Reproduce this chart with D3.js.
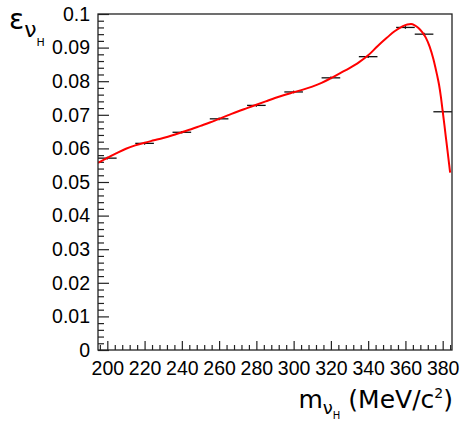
<!DOCTYPE html>
<html>
<head>
    <meta charset='utf-8'>
    <title>Efficiency</title>
    <script src="https://cdn.jsdelivr.net/npm/d3@7/dist/d3.min.js"></script>
    <style type="text/css">
        body { margin: 0; background: #fff; }
        .axis text { font-family: "Liberation Sans", Arial, sans-serif; font-size: 19.5px; fill: #000; }
        .axis line { stroke: #222; stroke-width: 1.2; }
        .title { font-family: "DejaVu Sans", sans-serif; fill: #000; }
    </style>
</head>
<body>
    <div id="svgContainer"></div>

    <script type="text/javascript">

        // measured points (bin centre, efficiency, errors)
        const massPoints = [200, 220, 240, 260, 280, 300, 320, 340, 360, 370, 380];
        const effPoints = [0.0571, 0.0615, 0.0648, 0.0688, 0.0728, 0.0768, 0.0810, 0.0873, 0.0960, 0.0940, 0.0709];
        const massErr = [5, 5, 5, 5, 5, 5, 5, 5, 5, 5, 5];
        const effErr = [0.0004, 0.0004, 0.0004, 0.0004, 0.0004, 0.0004, 0.0004, 0.0004, 0.0004, 0.0004, 0.0004];

        // fitted curve
        const fitMass = [195, 200, 205, 210, 215, 220, 225, 230, 235, 240, 245, 250, 255, 260, 265, 270,
            275, 280, 285, 290, 295, 300, 305, 310, 315, 320, 325, 330, 335, 340, 345, 350, 354, 358,
            361, 363, 365, 367, 369, 371, 373, 375, 376, 377, 378, 379, 380, 381, 382, 383, 384];
        const fitEff = [0.0557, 0.0572, 0.0586, 0.0599, 0.0609, 0.0617, 0.0624, 0.0631, 0.0639, 0.0648,
            0.0657, 0.0667, 0.0677, 0.0688, 0.0699, 0.0710, 0.0720, 0.0730, 0.0740, 0.0750, 0.0759,
            0.0767, 0.0775, 0.0784, 0.0795, 0.0809, 0.0824, 0.0839, 0.0856, 0.0877, 0.0904, 0.0929,
            0.0948, 0.0962, 0.0969, 0.0970, 0.0966, 0.0958, 0.0946, 0.0929, 0.0903, 0.0866, 0.0843,
            0.0818, 0.0791, 0.0755, 0.0711, 0.0666, 0.0620, 0.0574, 0.0528];

        const xTicks = [200, 220, 240, 260, 280, 300, 320, 340, 360, 380];
        const yTicks = [0, 0.01, 0.02, 0.03, 0.04, 0.05, 0.06, 0.07, 0.08, 0.09, 0.1];
        const xDomain = [195, 385];
        const yDomain = [0, 0.1];

        const width = 460;
        const height = 421;
        const frame = {left: 98, right: 452, top: 14, bottom: 350};

        const svg = d3.select("#svgContainer").append("svg")
            .attr("width", width)
            .attr("height", height);

        const x = d3.scaleLinear().domain(xDomain).range([frame.left, frame.right]);
        const y = d3.scaleLinear().domain(yDomain).range([frame.bottom, frame.top]);

        // minor ticks: 5 subdivisions per major step
        const xMinor = d3.range(196, xDomain[1], 4).filter(v => v % 20 !== 0);
        const yMinor = d3.range(0, 50).filter(i => i % 5 !== 0).map(i => i * 0.002);

        svg.append("g")
            .attr("class", "axis")
            .attr("transform", `translate(${frame.left},0)`)
            .call(d3.axisLeft(y).tickValues(yMinor).tickSize(-6).tickFormat(""))
            .call(g => g.select(".domain").remove());

        svg.append("g")
            .attr("class", "axis")
            .attr("transform", `translate(${frame.left},0)`)
            .call(d3.axisLeft(y).tickValues(yTicks).tickSize(-11).tickPadding(8)
                .tickFormat(d => d3.format(".2~f")(d)))
            .call(g => g.select(".domain").remove());

        svg.append("g")
            .attr("class", "axis")
            .attr("transform", `translate(0,${frame.bottom})`)
            .call(d3.axisBottom(x).tickValues(xMinor).tickSize(-5).tickFormat(""))
            .call(g => g.select(".domain").remove());

        svg.append("g")
            .attr("class", "axis")
            .attr("transform", `translate(0,${frame.bottom})`)
            .call(d3.axisBottom(x).tickValues(xTicks).tickSize(-9).tickPadding(11))
            .call(g => g.select(".domain").remove());

        svg.append("clipPath").attr("id", "frameClip")
            .append("rect")
            .attr("x", frame.left).attr("y", frame.top)
            .attr("width", frame.right - frame.left).attr("height", frame.bottom - frame.top);

        const pts = massPoints.map((m, i) => ({m: m, e: effPoints[i], dm: massErr[i], de: effErr[i]}));

        const bars = svg.append("g")
            .attr("clip-path", "url(#frameClip)")
            .attr("stroke", "#111")
            .attr("stroke-width", 1.3);

        bars.selectAll("line.h")
            .data(pts)
            .join("line")
            .attr("class", "h")
            .attr("x1", d => x(d.m - d.dm))
            .attr("x2", d => x(d.m + d.dm))
            .attr("y1", d => y(d.e))
            .attr("y2", d => y(d.e));

        bars.selectAll("line.v")
            .data(pts)
            .join("line")
            .attr("class", "v")
            .attr("x1", d => x(d.m))
            .attr("x2", d => x(d.m))
            .attr("y1", d => y(d.e - d.de))
            .attr("y2", d => y(d.e + d.de));

        const fit = fitMass.map((m, i) => [m, fitEff[i]]);
        const line = d3.line()
            .x(d => x(d[0]))
            .y(d => y(d[1]))
            .curve(d3.curveMonotoneX);

        svg.append("path")
            .attr("clip-path", "url(#frameClip)")
            .attr("d", line(fit))
            .attr("fill", "none")
            .attr("stroke", "#ff0000")
            .attr("stroke-width", 2);

        svg.append("rect")
            .attr("x", frame.left).attr("y", frame.top)
            .attr("width", frame.right - frame.left).attr("height", frame.bottom - frame.top)
            .attr("fill", "none")
            .attr("stroke", "#222")
            .attr("stroke-width", 1.3);

        // y title: epsilon_{nu_H}
        const yt = svg.append("text").attr("class", "title").attr("x", 9).attr("y", 29);
        yt.append("tspan").attr("font-size", "28px").text("ε");
        yt.append("tspan").attr("font-size", "22px").attr("dy", 8).text("ν");
        yt.append("tspan").attr("font-size", "11px").attr("dy", 9).attr("dx", 0).text("H");

        // x title: m_{nu_H} (MeV/c^2)
        const xt = svg.append("text").attr("class", "title")
            .attr("x", frame.right + 1).attr("y", 408).attr("text-anchor", "end");
        xt.append("tspan").attr("font-size", "25px").text("m");
        xt.append("tspan").attr("font-size", "18px").attr("dy", 6).text("ν");
        xt.append("tspan").attr("font-size", "10px").attr("dy", 5).text("H");
        xt.append("tspan").attr("font-size", "25px").attr("dy", -11).text(" (MeV/c");
        xt.append("tspan").attr("font-size", "14px").attr("dy", -10).text("2");
        xt.append("tspan").attr("font-size", "25px").attr("dy", 10).text(")");

    </script>
</body>
</html>
